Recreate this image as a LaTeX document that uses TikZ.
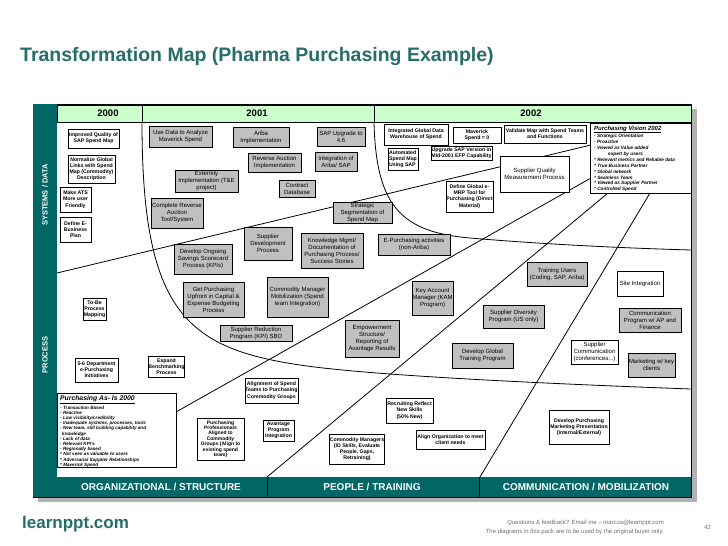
\documentclass[tikz,border=0pt]{standalone}
\usepackage{fontspec}
\setmainfont{Liberation Sans}
\usetikzlibrary{calc}
\definecolor{teal1}{RGB}{0,102,102}
\definecolor{hdr}{RGB}{204,255,204}
\definecolor{gfill}{RGB}{192,192,192}
\definecolor{titlec}{RGB}{38,110,106}
\definecolor{foot}{RGB}{110,110,110}
\newcommand\fsg{\fontsize{6}{7}\selectfont}
\newcommand\fsw{\fontsize{5.2}{6.2}\selectfont\bfseries}
\newcommand\fsl{\fontsize{4.7}{5.9}\selectfont\bfseries\itshape}
\tikzset{
 bx/.style={draw=black, line width=0.8pt, align=center, inner sep=0pt},
 gb/.style={bx, fill=gfill, font=\fsg},
 wb/.style={bx, fill=white, font=\fsw},
 wbn/.style={bx, fill=white, font=\fsg},
 divline/.style={line width=0.8pt, black},
 bartext/.style={text=white, font=\fontsize{10}{12}\selectfont\bfseries, inner sep=0pt},
 sidetext/.style={text=white, font=\fontsize{7.5}{9}\selectfont\bfseries, inner sep=0pt, rotate=90},
 yeartext/.style={font=\fontsize{9.5}{11}\selectfont\bfseries, inner sep=0pt},
}
\newcommand\bx[7]{\node[#2, minimum width={(#5-#3)*1pt}, minimum height={(#6-#4)*1pt}] (#1) at ({(#3+#5)/2},{(#4+#6)/2}) {#7};}
\begin{document}
\begin{tikzpicture}[x=1pt,y=-1pt]
\useasboundingbox (0,0) rectangle (728,546);
\fill[white] (0,0) rectangle (728,546);
% title
\node[anchor=base west, inner sep=0, text=titlec, font=\fontsize{19.5}{22}\selectfont\bfseries] (title) at (20,61) {Transformation Map (Pharma Purchasing Example)};
% frame
\fill[black!30] (38,109) rectangle (697,502);
\draw[fill=white, line width=0.8pt] (33,104) rectangle (691,497);
\draw[fill=hdr, line width=0.8pt] (57,105) rectangle (691,122);
\draw[divline] (142,105) -- (142,122) (374,105) -- (374,122);
\node[yeartext] (y2000) at (108,113.5) {2000};
\node[yeartext] (y2001) at (257,113.5) {2001};
\node[yeartext] (y2002) at (531,113.5) {2002};
% side bar
\fill[teal1] (33,104) rectangle (57,477);
\node[sidetext] (sys) at (45,195) {SYSTEMS / DATA};
\node[sidetext] (proc) at (45,355) {PROCESS};
% bottom bar
\fill[teal1] (33,477) rectangle (691,497);
\draw[black, line width=0.8pt] (267,477) -- (267,497) (479,477) -- (479,497);
\node[bartext] (org) at (161,487) {ORGANIZATIONAL / STRUCTURE};
\node[bartext] (ppl) at (372,487) {PEOPLE / TRAINING};
\node[bartext] (com) at (586,487) {COMMUNICATION / MOBILIZATION};
% dividing lines
\coordinate (l1a) at (57,273);
\coordinate (l1b) at (591,145);
\coordinate (l2a) at (176,412);
\coordinate (l2b) at (591,178);
\coordinate (lxa) at (267,477);
\coordinate (lxb) at (608,193);
\coordinate (lya) at (480,477);
\coordinate (lyb) at (650,193);
\begin{scope}
\clip (57,122) rectangle (691,477);
\draw[divline] (142,122) .. controls (142,310) and (185,348) .. (300,365) .. controls (360,374) and (500,382) .. (691,389);
\draw[divline] (374,122) .. controls (376,205) and (400,232) .. (470,238) .. controls (540,244) and (620,248) .. (691,250);
\draw[divline] (l1a) -- (l1b);
\draw[divline] (l2a) -- (l2b);
\draw[divline] (lxa) -- (lxb);
\draw[divline] (lya) -- (lyb);
\end{scope}
% gray boxes
\bx{use}{gb}{149}{126}{212}{147}{Use Data to Analyze\\Maverick Spend}
\bx{ariba}{gb}{233}{127}{289}{147}{Ariba\\Implementation}
\bx{sap}{gb}{317}{127}{365}{146}{SAP Upgrade to\\4.6}
\bx{revauc}{gb}{248}{153}{301}{172}{Reverse Auction\\Implementation}
\bx{integ}{gb}{315}{152}{357}{171}{Integration of\\Ariba/ SAP}
\bx{contract}{gb}{279}{180}{315}{197}{Contract\\Database}
\bx{externity}{gb}{175}{170}{238}{192}{Externity\\Implementation (T\&E\\project)}
\bx{complete}{gb}{151}{198}{203}{228}{Complete Reverse\\Auction\\Tool/System}
\bx{strat}{gb}{333}{202}{392}{223}{Strategic\\Segmentation of\\Spend Map}
\bx{suppdev}{gb}{244}{227}{292}{260}{Supplier\\Development\\Process}
\bx{knowl}{gb}{301}{233}{363}{268}{Knowledge Mgmt/\\Documentation of\\Purchasing Process/\\Success Stories}
\bx{epurch}{gb}{378}{234}{450}{255}{E-Purchasing activities\\(non-Ariba)}
\bx{ongoing}{gb}{174}{244}{232}{274}{Develop Ongoing\\Savings Scorecard\\Process (KPIs)}
\bx{getpurch}{gb}{183}{282}{244}{317}{Get Purchasing\\Upfront in Capital \&\\Expense Budgeting\\Process}
\bx{commgr}{gb}{267}{277}{328}{317}{Commodity Manager\\Mobilization (Spend\\team Integration)}
\bx{suppred}{gb}{220}{325}{292}{341}{Supplier Reduction\\Program (KPI) SBO}
\bx{empower}{gb}{345}{320}{399}{357}{Empowerment\\Structure/\\Reporting of\\Avantage Results}
\bx{kam}{gb}{412}{281}{453}{315}{Key Account\\Manager (KAM\\Program)}
\bx{suppdiv}{gb}{483}{305}{544}{328}{Supplier Diversity\\Program (US only)}
\bx{gtrain}{gb}{452}{343}{513}{368}{Develop Global\\Training Program}
\bx{trainu}{gb}{527}{262}{587}{286}{Training Users\\(Coding, SAP, Ariba)}
\bx{commprog}{gb}{619}{308}{681}{332}{Communication\\Program w/ AP and\\Finance}
\bx{mkt}{gb}{628}{353}{675}{377}{Marketing w/ key\\clients}
% white boxes
\bx{improved}{wb}{68}{129}{119}{148}{Improved Quality of\\SAP Spend Map}
\bx{normalize}{wb}{68}{155}{115}{183}{Normalize Global\\Links with Spend\\Map (Commodity)\\Description}
\bx{ats}{wb}{60}{187}{91}{212}{Make ATS\\More user\\Friendly}
\bx{ebiz}{wb}{60}{217}{91}{242}{Define E-\\Business\\Plan}
\bx{integdw}{wb}{384}{124}{448}{145}{Integrated Global Data\\Warehouse of Spend}
\bx{maverick}{wb}{453}{127}{501}{143}{Maverick\\Spend = 0}
\bx{validate}{wb}{504}{125}{586}{143}{Validate Map with Spend Teams\\and Functions}
\bx{automated}{wb, align=left}{388}{148}{418}{170}{Automated\\Spend Map\\Using SAP}
\bx{upgrade}{wb, font=\fontsize{5.2}{5.6}\selectfont\bfseries}{431}{146}{492}{160}{Upgrade SAP Version in\\Mid-2001 EFP Capability}
\bx{emrp}{wb}{446}{181}{493}{212}{Define Global e-\\MRP Tool for\\Purchasing (Direct\\Material)}
\bx{suppqual}{wbn}{500}{156}{569}{192}{Supplier Quality\\Measurement Process}
\bx{tobe}{wb}{83}{298}{106}{320}{To-Be\\Process\\Mapping}
\bx{dept}{wb}{75}{358}{118}{382}{5-6 Department\\e-Purchasing\\Initiatives}
\bx{bench}{wb}{151}{356}{182}{377}{Expand\\Benchmarking\\Process}
\bx{profs}{wb, font=\fontsize{5}{5.4}\selectfont\bfseries}{197}{418}{244}{460}{Purchasing\\Professionals\\Aligned to\\Commodity\\Groups (Align to\\existing spend\\team)}
\bx{alignsp}{wb}{245}{378}{298}{403}{Alignment of Spend\\Teams to Purchasing\\Commodity Groups}
\bx{avantage}{wb}{263}{420}{294}{441}{Avantage\\Program\\Integration}
\bx{commgrs}{wb}{330}{434}{384}{464}{Commodity Managers\\(ID Skills, Evaluate\\People, Gaps,\\Retraining)}
\bx{recruit}{wb}{386}{398}{433}{423}{Recruiting Reflect\\New Skills\\(50\% New)}
\bx{alignorg}{wb}{416}{430}{485}{449}{Align Organization to meet\\client needs}
\bx{devmkt}{wb}{549}{410}{609}{444}{Develop Purchasing\\Marketing Presentation\\(Internal/External)}
\bx{site}{wbn}{617}{271}{663}{296}{Site Integration}
\bx{suppcomm}{wbn}{571}{340}{618}{364}{Supplier\\Communication\\(conferences...)}
% vision box
\bx{vision}{bx, fill=white}{590}{123}{691}{193}{}
\node[anchor=north west, inner sep=0pt, align=left, font=\fsl] (visiontxt) at (594,125.5) {{\fontsize{6}{7}\selectfont\underline{Purchasing Vision 2002}}\\
- Strategic Orientation\\
- Proactive\\
- Viewed as Value added\\
\hspace{14pt}expert by users\\
* Relevant metrics and Reliable data\\
* True Business Partner\\
* Global network\\
* Seamless Team\\
* Viewed as Supplier Partner\\
* Controlled Spend};
% as-is box
\bx{asis}{bx, fill=white}{57}{393}{176}{467}{}
\node[anchor=north west, inner sep=0pt, align=left, font=\fontsize{4.6}{5.2}\selectfont\bfseries\itshape] (asistxt) at (60,395) {{\fontsize{6.8}{7.5}\selectfont\underline{Purchasing As- Is 2000}}\\[1.2pt]
- Transaction Based\\
- Reactive\\
- Low visibility/credibility\\
- Inadequate systems, processes, tools\\
- New team, still building capability and\\
\hspace{2pt}knowledge\\
- Lack of data\\
- Relevant KPI's\\
- Regionally based\\
* Not seen as valuable to users\\
* Adversarial Supplier Relationships\\
* Maverick Spend};
% footer
\node[anchor=base west, inner sep=0pt, text=titlec, font=\fontsize{17}{20}\selectfont\bfseries] (site) at (22,528) {learnppt.com};
\node[anchor=base east, inner sep=0pt, text=foot, font=\fontsize{6}{7}\selectfont] (q1) at (664,524) {Questions \& feedback? Email me -- marcus@learnppt.com};
\node[anchor=base east, inner sep=0pt, text=foot, font=\fontsize{6}{7}\selectfont] (q2) at (664,533) {The diagrams in this pack are to be used by the original buyer only.};
\node[anchor=base west, inner sep=0pt, text=foot, font=\fontsize{6}{7}\selectfont] (pg) at (704,529) {42};
\end{tikzpicture}
\end{document}
